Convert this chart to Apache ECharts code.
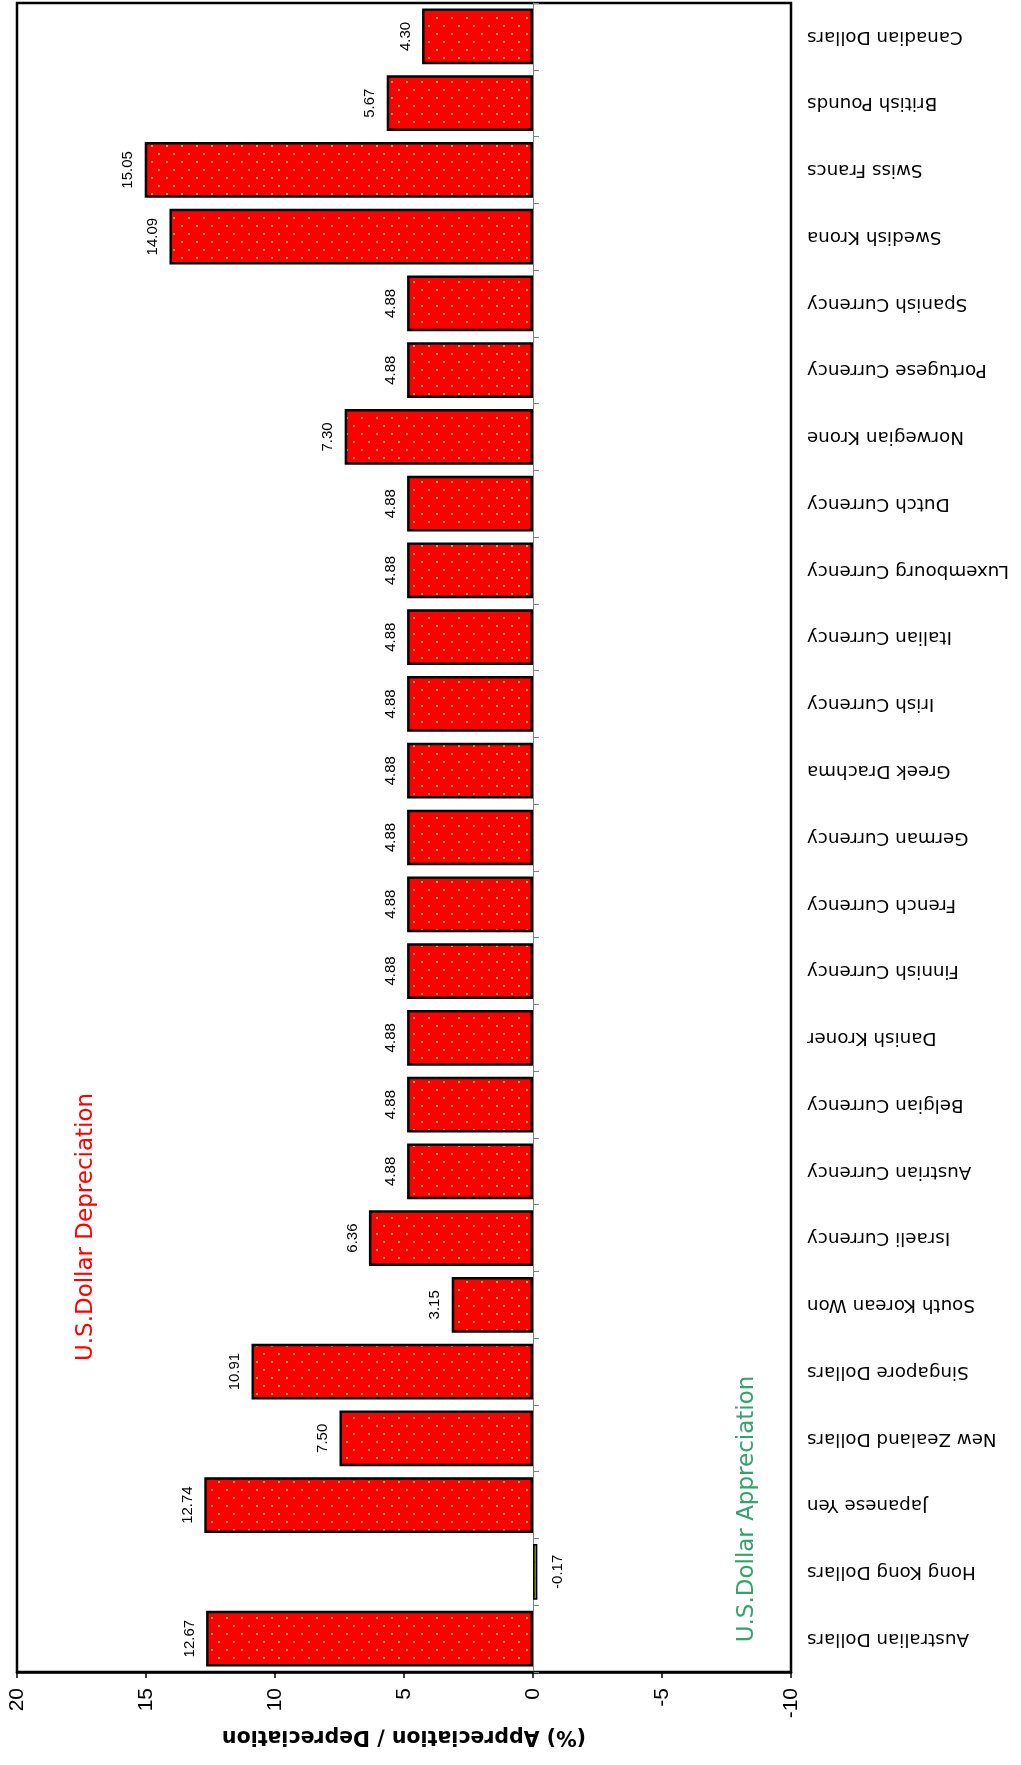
<!DOCTYPE html>
<html>
<head>
<meta charset="utf-8">
<script src="https://cdn.jsdelivr.net/npm/echarts@6/dist/echarts.min.js"></script>
<style>
  html, body { margin: 0; padding: 0; background: #fff; }
  #chart { width: 1021px; height: 1765px; }
</style>
</head>
<body>
<div id="chart"></div>
<script>
// ---- Data (bottom to top along the category axis) ----
const categories = [
  'Australian Dollars', 'Hong Kong Dollars', 'Japanese Yen', 'New Zealand Dollars',
  'Singapore Dollars', 'South Korean Won', 'Israeli Currency', 'Austrian Currency',
  'Belgian Currency', 'Danish Kroner', 'Finnish Currency', 'French Currency',
  'German Currency', 'Greek Drachma', 'Irish Currency', 'Italian Currency',
  'Luxembourg Currency', 'Dutch Currency', 'Norwegian Krone', 'Portugese Currency',
  'Spanish Currency', 'Swedish Krona', 'Swiss Francs', 'British Pounds', 'Canadian Dollars'
];
const changes = [
  12.67, -0.17, 12.74, 7.50,
  10.91, 3.15, 6.36, 4.88,
  4.88, 4.88, 4.88, 4.88,
  4.88, 4.88, 4.88, 4.88,
  4.88, 4.88, 7.30, 4.88,
  4.88, 14.09, 15.05, 5.67, 4.30
];
const axisMin = -10, axisMax = 20, axisStep = 5;
const axisTitle = '(%) Appreciation / Depreciation';
const noteDep = 'U.S.Dollar Depreciation';
const noteApp = 'U.S.Dollar Appreciation';

// ---- Patterns ----
function makePattern(bg, dot) {
  const c = document.createElement('canvas');
  c.width = 15; c.height = 16;
  const ctx = c.getContext('2d');
  ctx.fillStyle = bg; ctx.fillRect(0, 0, 15, 16);
  ctx.fillStyle = dot;
  ctx.fillRect(1, 1, 2, 2);
  ctx.fillRect(8, 9, 2, 2);
  return c;
}
const redPattern = { image: makePattern('#ff0000', '#a8c020'), repeat: 'repeat' };
const greenPattern = { image: makePattern('#8fb800', '#e03000'), repeat: 'repeat' };

const numFont = 'Liberation Sans';
const txtFont = 'DejaVu Sans';

const barData = changes.map(v => {
  const pos = v >= 0;
  return {
    value: v,
    itemStyle: pos ? { color: redPattern } : { color: greenPattern, borderWidth: 1.6 },
    label: pos
      ? { position: 'left', distance: 9, align: 'center', verticalAlign: 'bottom' }
      : { position: 'right', distance: 13, align: 'center', verticalAlign: 'top' }
  };
});

const chart = echarts.init(document.getElementById('chart'), null, { renderer: 'canvas' });
chart.setOption({
  animation: false,
  backgroundColor: '#fff',
  grid: {
    left: 17, right: 230, top: 3, bottom: 93,
    show: true, borderColor: '#000', borderWidth: 2.5, backgroundColor: 'transparent'
  },
  xAxis: {
    type: 'value', min: axisMin, max: axisMax, interval: axisStep, inverse: true,
    position: 'bottom',
    axisLine: { show: true, onZero: false, lineStyle: { color: '#000', width: 2.5 } },
    axisTick: { show: true, length: 6, lineStyle: { color: '#000', width: 1.5 } },
    splitLine: { show: false },
    axisLabel: { rotate: 90, margin: 16, fontSize: 21, fontFamily: numFont, color: '#000' },
    name: axisTitle, nameLocation: 'middle', nameRotate: 180, nameGap: 48,
    nameTextStyle: { fontSize: 20.5, fontWeight: 'bold', fontFamily: txtFont, color: '#000' }
  },
  yAxis: [
    {
      type: 'category', data: categories, position: 'right',
      axisLine: { show: false, onZero: false },
      axisTick: { show: false },
      axisLabel: { rotate: 180, interval: 0, margin: 16, fontSize: 18.3, fontFamily: txtFont, color: '#000' }
    },
    {
      type: 'category', data: categories, position: 'left',
      axisLine: { show: true, onZero: true, lineStyle: { color: '#808080', width: 1 } },
      axisTick: { show: true, inside: true, length: 6, lineStyle: { color: '#808080', width: 1 } },
      axisLabel: { show: false }
    }
  ],
  series: [{
    type: 'bar',
    yAxisIndex: 0,
    data: barData,
    barCategoryGap: '16.5%',
    itemStyle: { borderColor: '#000', borderWidth: 2.5 },
    label: {
      show: true, rotate: 90, fontSize: 15, fontFamily: numFont, color: '#000',
      formatter: p => Number(p.value).toFixed(2)
    },
    z: 3
  }],
  graphic: [
    {
      type: 'text', x: 86, y: 1227, rotation: Math.PI / 2,
      style: { text: noteDep, fill: '#ff0000', fontSize: 23, fontFamily: txtFont, align: 'center', verticalAlign: 'middle' }
    },
    {
      type: 'text', x: 747, y: 1509, rotation: Math.PI / 2,
      style: { text: noteApp, fill: '#33a469', fontSize: 23, fontFamily: txtFont, align: 'center', verticalAlign: 'middle' }
    }
  ]
});
</script>
</body>
</html>
